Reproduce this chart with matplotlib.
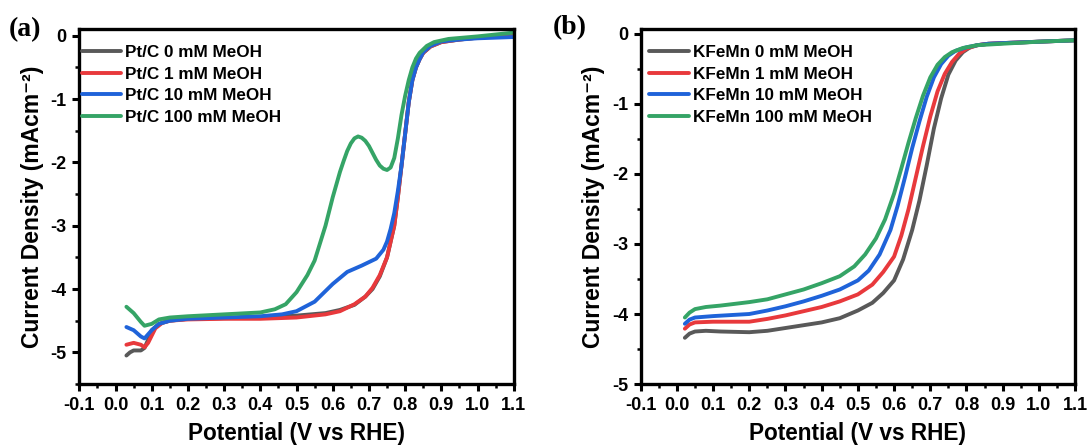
import numpy as np
import matplotlib
matplotlib.use('Agg')
import matplotlib.pyplot as plt
from matplotlib.ticker import MultipleLocator

plt.rcParams['font.family'] = ['Liberation Sans', 'DejaVu Sans']
plt.rcParams['font.weight'] = 'bold'
plt.rcParams['axes.unicode_minus'] = False

# ---- panel (a): Pt/C LSV dengan variasi MeOH ----
pt_labels = ['Pt/C 0 mM MeOH', 'Pt/C 1 mM MeOH', 'Pt/C 10 mM MeOH', 'Pt/C 100 mM MeOH']

pt0_v = [0.03, 0.04, 0.05, 0.07, 0.08, 0.09, 0.10, 0.12, 0.15, 0.20, 0.30, 0.40, 0.50, 0.58,
         0.62, 0.66, 0.69, 0.71, 0.73, 0.75, 0.77, 0.78, 0.79, 0.80, 0.81, 0.82, 0.83, 0.84,
         0.85, 0.87, 0.90, 0.95, 1.00, 1.05, 1.10]
pt0_j = [-5.05, -5.00, -4.97, -4.97, -4.93, -4.80, -4.65, -4.55, -4.50, -4.47, -4.46, -4.45, -4.42, -4.38,
         -4.33, -4.25, -4.12, -4.00, -3.80, -3.50, -3.00, -2.55, -2.05, -1.55, -1.05, -0.70, -0.50, -0.37,
         -0.27, -0.17, -0.10, -0.06, -0.03, -0.01, 0.00]

pt1_v = [0.03, 0.05, 0.07, 0.08, 0.09, 0.11, 0.13, 0.15, 0.20, 0.30, 0.40, 0.50, 0.58,
         0.62, 0.66, 0.69, 0.71, 0.73, 0.75, 0.77, 0.78, 0.79, 0.80, 0.81, 0.82, 0.83, 0.84,
         0.85, 0.87, 0.90, 0.95, 1.00, 1.05, 1.10]
pt1_j = [-4.88, -4.85, -4.88, -4.92, -4.85, -4.62, -4.53, -4.50, -4.48, -4.47, -4.47, -4.45, -4.40,
         -4.35, -4.24, -4.12, -3.98, -3.78, -3.50, -3.00, -2.55, -2.05, -1.55, -1.05, -0.70, -0.50, -0.37,
         -0.27, -0.17, -0.10, -0.06, -0.03, -0.01, 0.00]

pt10_v = [0.03, 0.05, 0.07, 0.08, 0.10, 0.12, 0.15, 0.20, 0.30, 0.40, 0.46, 0.50, 0.55,
          0.60, 0.64, 0.68, 0.72, 0.74, 0.75, 0.76, 0.77, 0.78, 0.79, 0.80, 0.81, 0.82, 0.83, 0.84,
          0.85, 0.87, 0.90, 0.95, 1.00, 1.05, 1.10]
pt10_j = [-4.60, -4.65, -4.75, -4.78, -4.65, -4.55, -4.50, -4.47, -4.45, -4.43, -4.40, -4.35, -4.20,
          -3.92, -3.73, -3.63, -3.52, -3.38, -3.25, -3.05, -2.80, -2.45, -2.05, -1.55, -1.05, -0.70, -0.50, -0.37,
          -0.26, -0.16, -0.09, -0.06, -0.04, -0.03, -0.02]

pt100_v = [0.03, 0.05, 0.07, 0.08, 0.10, 0.12, 0.15, 0.20, 0.30, 0.40, 0.44, 0.47, 0.50, 0.53,
           0.55, 0.58, 0.60, 0.62, 0.63, 0.64, 0.65, 0.66, 0.67, 0.68, 0.69, 0.70, 0.71, 0.72,
           0.73, 0.74, 0.75, 0.76, 0.77, 0.78, 0.79, 0.80, 0.81, 0.82, 0.83, 0.84, 0.86, 0.88,
           0.92, 1.00, 1.05, 1.10]
pt100_j = [-4.28, -4.38, -4.52, -4.58, -4.55, -4.48, -4.45, -4.43, -4.40, -4.37, -4.32, -4.24, -4.05, -3.78,
           -3.55, -3.00, -2.55, -2.15, -1.98, -1.82, -1.70, -1.62, -1.59, -1.61, -1.66, -1.74, -1.85, -1.96,
           -2.05, -2.10, -2.12, -2.08, -1.93, -1.62, -1.25, -0.95, -0.70, -0.50, -0.36, -0.27, -0.16, -0.10,
           -0.05, -0.01, 0.02, 0.05]

# ---- panel (b): KFeMn LSV dengan variasi MeOH ----
kf_labels = ['KFeMn 0 mM MeOH', 'KFeMn 1 mM MeOH', 'KFeMn 10 mM MeOH', 'KFeMn 100 mM MeOH']

kf0_v = [0.022, 0.035, 0.05, 0.08, 0.12, 0.20, 0.25, 0.30, 0.35, 0.40, 0.45, 0.50, 0.54, 0.57,
         0.60, 0.625, 0.65, 0.67, 0.69, 0.71, 0.73, 0.75, 0.77, 0.79, 0.81, 0.83, 0.86, 0.90,
         1.00, 1.10]
kf0_j = [-4.34, -4.28, -4.25, -4.24, -4.25, -4.26, -4.24, -4.20, -4.16, -4.12, -4.06, -3.95, -3.84, -3.70,
         -3.52, -3.22, -2.80, -2.38, -1.88, -1.35, -0.92, -0.58, -0.38, -0.26, -0.19, -0.16, -0.14, -0.13,
         -0.11, -0.09]

kf1_v = [0.022, 0.035, 0.05, 0.10, 0.20, 0.25, 0.30, 0.35, 0.40, 0.45, 0.50, 0.54, 0.57, 0.60,
         0.62, 0.64, 0.66, 0.68, 0.70, 0.72, 0.74, 0.76, 0.78, 0.80, 0.83, 0.86, 0.90, 1.00, 1.10]
kf1_j = [-4.21, -4.15, -4.12, -4.11, -4.11, -4.07, -4.02, -3.96, -3.90, -3.82, -3.72, -3.58, -3.40, -3.18,
         -2.88, -2.50, -2.05, -1.60, -1.18, -0.82, -0.57, -0.40, -0.28, -0.21, -0.16, -0.14, -0.13, -0.11, -0.09]

kf10_v = [0.022, 0.035, 0.05, 0.10, 0.20, 0.25, 0.30, 0.35, 0.40, 0.45, 0.50, 0.53, 0.56, 0.59,
          0.61, 0.63, 0.65, 0.67, 0.69, 0.71, 0.73, 0.75, 0.77, 0.80, 0.83, 0.86, 0.90, 1.00, 1.10]
kf10_j = [-4.14, -4.08, -4.05, -4.03, -4.00, -3.95, -3.89, -3.82, -3.74, -3.65, -3.52, -3.38, -3.15, -2.80,
          -2.45, -2.05, -1.63, -1.25, -0.90, -0.62, -0.43, -0.31, -0.24, -0.19, -0.16, -0.14, -0.13, -0.11, -0.09]

kf100_v = [0.022, 0.035, 0.05, 0.08, 0.12, 0.20, 0.25, 0.30, 0.35, 0.40, 0.45, 0.49, 0.52, 0.55,
           0.575, 0.60, 0.62, 0.64, 0.66, 0.68, 0.70, 0.72, 0.74, 0.76, 0.79, 0.83, 0.88, 1.00, 1.10]
kf100_j = [-4.05, -3.98, -3.93, -3.90, -3.88, -3.83, -3.79, -3.72, -3.65, -3.56, -3.46, -3.32, -3.15, -2.92,
           -2.65, -2.28, -1.92, -1.55, -1.20, -0.88, -0.62, -0.44, -0.33, -0.26, -0.20, -0.16, -0.145, -0.11, -0.09]

warna = ['#595959', '#e8393c', '#1f63d9', '#35a466']


def style_axes(ax, ylim):
    ax.set_xlim(-0.1, 1.1)
    ax.set_ylim(*ylim)
    ax.xaxis.set_major_locator(MultipleLocator(0.1))
    ax.xaxis.set_minor_locator(MultipleLocator(0.05))
    ax.yaxis.set_major_locator(MultipleLocator(1))
    ax.yaxis.set_minor_locator(MultipleLocator(0.5))
    ax.xaxis.set_major_formatter(plt.FuncFormatter(lambda v, p: f'{v:.1f}'))
    ax.yaxis.set_major_formatter(plt.FuncFormatter(lambda v, p: f'{v:.0f}'))
    for s in ax.spines.values():
        s.set_linewidth(2.4)
    ax.tick_params(which='major', direction='out', length=5, width=2.2, labelsize=13, pad=4)
    ax.tick_params(which='minor', direction='out', length=3, width=1.8)
    ax.set_xlabel('Potential (V vs RHE)', fontsize=16.3, fontweight='bold', labelpad=6)
    ax.set_ylabel('Current Density (mAcm⁻²)', fontsize=16.5, fontweight='bold', labelpad=5)
    ax.legend(loc='upper left', frameon=False, fontsize=12.3, handlelength=2.3,
              handletextpad=0.25, labelspacing=0.38, borderaxespad=0.0, borderpad=0.0)


fig = plt.figure(figsize=(10.9, 4.46), dpi=100)
ax1 = fig.add_axes([0.0728, 0.139, 0.3985, 0.795])
ax2 = fig.add_axes([0.5878, 0.139, 0.3985, 0.795])

data_a = [(pt0_v, pt0_j), (pt1_v, pt1_j), (pt10_v, pt10_j), (pt100_v, pt100_j)]
for (v, j), lab, c in zip(data_a, pt_labels, warna):
    ax1.plot(v, j, color=c, lw=2.8, label=lab, solid_capstyle='round')
style_axes(ax1, (-5.5, 0.1))
ax1.get_legend().set_bbox_to_anchor((0.005, 0.955))

data_b = [(kf0_v, kf0_j), (kf1_v, kf1_j), (kf10_v, kf10_j), (kf100_v, kf100_j)]
for (v, j), lab, c in zip(data_b, kf_labels, warna):
    ax2.plot(v, j, color=c, lw=2.8, label=lab, solid_capstyle='round')
style_axes(ax2, (-5.0, 0.065))
ax2.get_legend().set_bbox_to_anchor((0.02, 0.955))

fig.text(25 / 1090, 1 - 30 / 446, '(a)', fontsize=20, fontweight='bold',
         family='Liberation Serif', ha='center', va='center')
fig.text(570 / 1090, 1 - 28 / 446, '(b)', fontsize=20, fontweight='bold',
         family='Liberation Serif', ha='center', va='center')

plt.savefig('out.png', dpi=100)
